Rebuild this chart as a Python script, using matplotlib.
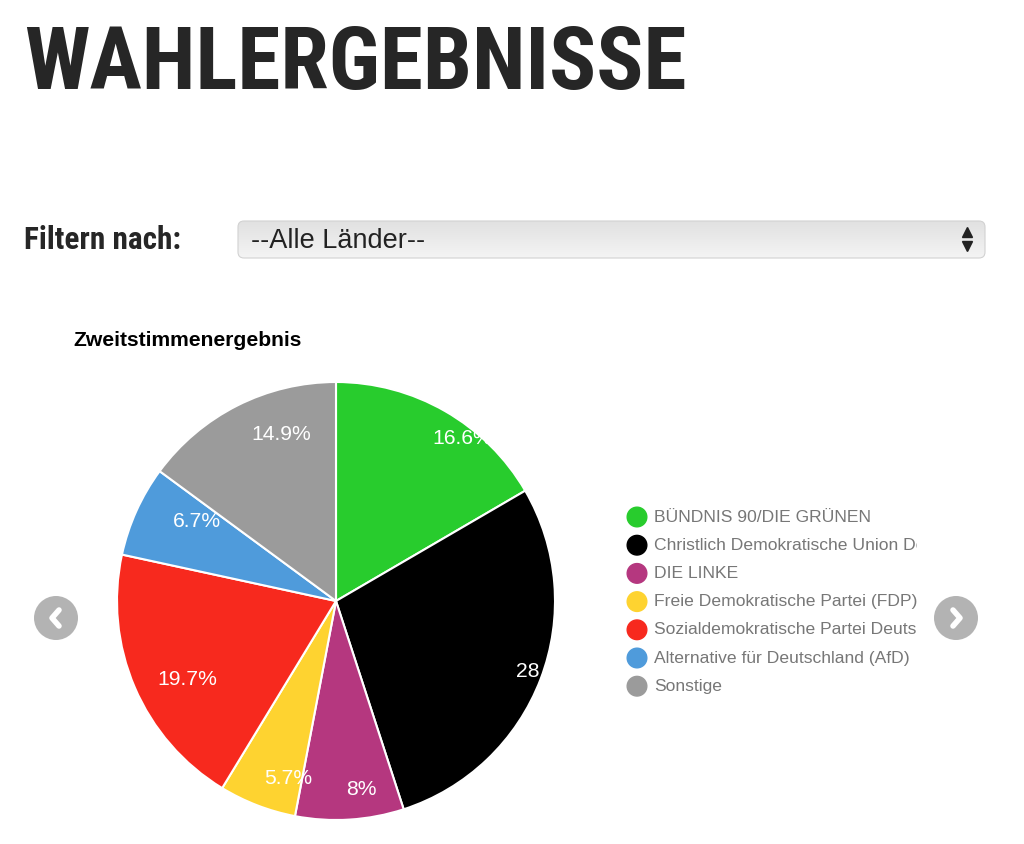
import matplotlib
matplotlib.use("Agg")
import matplotlib.pyplot as plt
import numpy as np
from matplotlib import font_manager
from matplotlib.colors import LinearSegmentedColormap
from matplotlib.patches import FancyBboxPatch, Circle

parties = ["BÜNDNIS 90/DIE GRÜNEN",
           "Christlich Demokratische Union Deutschlands (CDU)",
           "DIE LINKE",
           "Freie Demokratische Partei (FDP)",
           "Sozialdemokratische Partei Deutschlands (SPD)",
           "Alternative für Deutschland (AfD)",
           "Sonstige"]
shares = [16.6, 28.4, 8.0, 5.7, 19.7, 6.7, 14.9]
share_labels = ["16.6%", "28.4%", "8%", "5.7%", "19.7%", "6.7%", "14.9%"]
colors = ["#28cc2d", "#000000", "#b5377f", "#fed330", "#f7291e", "#4f9bdb", "#9b9b9b"]
# label placement inside each slice: fraction of radius, turn (deg) from slice middle
label_r = [0.94, 1.01, 0.87, 0.84, 0.77, 0.73, 0.80]
label_turn = [7.8, -2.2, -4.2, -6.0, -4.7, 5.6, 8.6]

W, H = 1024, 844
names = {f.name for f in font_manager.fontManager.ttflist}
narrow = "Roboto Condensed" if "Roboto Condensed" in names else "DejaVu Sans"
body = "Liberation Sans" if "Liberation Sans" in names else "DejaVu Sans"

F = plt.figure(figsize=(W / 100, H / 100), dpi=100)
F.patch.set_facecolor("white")

# page overlay in pixel coordinates
bg = F.add_axes([0, 0, 1, 1])
bg.axis("off")

bg.text(24, 89, "WAHLERGEBNISSE", family=narrow, fontweight="heavy", fontsize=63,
        color="#262626", va="baseline", ha="left")
bg.text(24, 249, "Filtern nach:", family=narrow, fontweight="bold", fontsize=22.5,
        color="#262626", va="baseline", ha="left")

# dropdown box
box = FancyBboxPatch((238, 221), 747, 37, boxstyle="round,pad=0,rounding_size=6",
                     facecolor="none", edgecolor="#d2d2d2", lw=0.8, zorder=3)
bg.add_patch(box)
grad = np.linspace(0, 1, 64).reshape(-1, 1)
im = bg.imshow(grad, extent=[238, 985, 258, 221],
               cmap=LinearSegmentedColormap.from_list("g", ["#e1e1e1", "#f4f4f4"]),
               aspect="auto", zorder=2)
im.set_clip_path(box)
bg.set_xlim(0, W)
bg.set_ylim(H, 0)
bg.text(251, 248, "--Alle Länder--", family=body, fontsize=19.5, color="#222222",
        va="baseline", ha="left", zorder=4)
bg.plot([967], [232], marker="^", ms=6.5, color="#222222", zorder=4)
bg.plot([967], [245.5], marker="v", ms=6.5, color="#222222", zorder=4)

bg.text(73, 346, "Zweitstimmenergebnis", family=body, fontweight="bold", fontsize=15.2,
        color="#000000", va="baseline", ha="left")

# navigation buttons
for bx, d in [(56, -1), (956, 1)]:
    bg.add_patch(Circle((bx, 618), 22, facecolor="#b3b3b3", edgecolor="none"))
    bg.plot([bx - 3 * d, bx + 4 * d, bx - 3 * d], [610, 618, 626], color="white",
            lw=4, solid_capstyle="round", solid_joinstyle="round")

# pie
cx, cy, r = 336, 601, 219
pie_ax = F.add_axes([(cx - r) / W, (H - cy - r) / H, 2 * r / W, 2 * r / H])
wedges, _ = pie_ax.pie(shares, colors=colors, startangle=90, counterclock=False,
                       radius=1, wedgeprops=dict(edgecolor="white", linewidth=1.5))
pie_ax.set_xlim(-1, 1)
pie_ax.set_ylim(-1, 1)
pie_ax.set_aspect("equal")
for w, lab, lr, turn in zip(wedges, share_labels, label_r, label_turn):
    ang = np.deg2rad((w.theta1 + w.theta2) / 2 - turn)
    t = pie_ax.text(lr * np.cos(ang), lr * np.sin(ang), lab, color="white",
                    family=body, fontsize=15.2, ha="center", va="center")
    t.set_clip_path(w)

# legend, clipped on the right like the original
leg = F.add_axes([620 / W, (H - 700) / H, (917 - 620) / W, 200 / H])
leg.set_xlim(620, 917)
leg.set_ylim(700, 500)
leg.axis("off")
row_y = 517 + 28.2 * np.arange(len(parties))
leg.scatter(np.full(len(parties), 637), row_y, s=200, c=colors, clip_on=False)
for y, p in zip(row_y, parties):
    leg.text(654, y, p, family=body, fontsize=12.6, color="#777777", va="center",
             ha="left", clip_on=True)

F.savefig("out.png", dpi=100)
